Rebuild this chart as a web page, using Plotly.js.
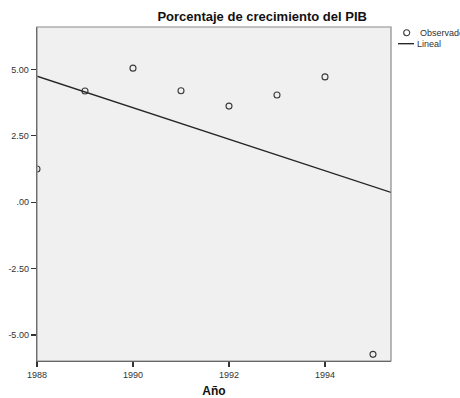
<!DOCTYPE html>
<html>
<head>
<meta charset="utf-8">
<script src="https://cdn.plot.ly/plotly-3.0.1.min.js"></script>
<style>html,body{margin:0;padding:0;background:#fff;}#chart{width:460px;height:398px;}</style>
</head>
<body>
<div id="chart"></div>
<script>
// Data
var years = [1988, 1989, 1990, 1991, 1992, 1993, 1994, 1995];
var gdpGrowth = [1.25, 4.19, 5.05, 4.20, 3.62, 4.04, 4.72, -5.73];
var yTickVals = [5, 2.5, 0, -2.5, -5];
var yTickText = ['5.00', '2.50', '.00', '-2.50', '-5.00'];
var xTickVals = [1988, 1990, 1992, 1994];

// Linear fit (least squares) from the observed data
var n = years.length;
var mx = years.reduce(function(a,b){return a+b;},0)/n;
var my = gdpGrowth.reduce(function(a,b){return a+b;},0)/n;
var sxy = 0, sxx = 0;
for (var i = 0; i < n; i++) { sxy += (years[i]-mx)*(gdpGrowth[i]-my); sxx += (years[i]-mx)*(years[i]-mx); }
var slope = sxy/sxx, intercept = my - slope*mx;
var xRange = [1988, 1995.375];
var yRange = [-5.98, 6.60];
var fitX = xRange.slice();
var fitY = fitX.map(function(x){return intercept + slope*x;});

var font = 'Liberation Sans, Arial, sans-serif';

// plot area pixel geometry
var L = 37, R = 391, T = 27, B = 361.5, W = 460, H = 398;
function px(x){ return (x - L)/(R - L); }
function py(y){ return (B - y)/(B - T); }

var traces = [
  {x: years, y: gdpGrowth, mode: 'markers', type: 'scatter', name: 'Observado',
   marker: {symbol: 'circle-open', size: 6, color: '#3a3a3a', line: {width: 1.1, color: '#3a3a3a'}},
   cliponaxis: true, showlegend: false},
  {x: fitX, y: fitY, mode: 'lines', type: 'scatter', name: 'Lineal',
   line: {color: '#262626', width: 1.4}, showlegend: false}
];

var layout = {
  width: W, height: H,
  margin: {l: L, r: W - R, t: T, b: H - B, pad: 0},
  paper_bgcolor: '#ffffff',
  plot_bgcolor: '#f0f0f0',
  font: {family: font, size: 9, color: '#333'},
  title: {text: '<b>Porcentaje de crecimiento del PIB</b>', font: {family: font, size: 13, color: '#111'},
          xref: 'paper', x: 0.636, xanchor: 'center', yref: 'container', y: 1 - 16/H, yanchor: 'middle'},
  xaxis: {range: xRange, tickvals: xTickVals, ticktext: xTickVals.map(String), ticks: 'outside', ticklen: 5,
          tickcolor: '#333', tickwidth: 1.2, showgrid: false, zeroline: false, showline: true, linecolor: '#444', linewidth: 1.3,
          tickfont: {family: font, size: 9, color: '#333'},
          title: {text: '<b>Año</b>', font: {family: font, size: 12, color: '#111'}, standoff: 8}},
  yaxis: {range: yRange, tickvals: yTickVals, ticktext: yTickText, ticks: 'outside', ticklen: 5,
          tickcolor: '#333', tickwidth: 1.2, showgrid: false, zeroline: false, showline: true, linecolor: '#444', linewidth: 1.3,
          tickfont: {family: font, size: 9, color: '#333'}},
  shapes: [
    {type: 'rect', xref: 'paper', yref: 'paper', x0: 0, x1: 1, y0: 0, y1: 1, line: {color: '#8a8a8a', width: 1.2}, layer: 'above'},
    {type: 'circle', xref: 'paper', yref: 'paper', x0: px(403.7), x1: px(409.7), y0: py(35.7), y1: py(29.7), line: {color: '#3a3a3a', width: 1.1}},
    {type: 'line', xref: 'paper', yref: 'paper', x0: px(398), x1: px(414), y0: py(43.7), y1: py(43.7), line: {color: '#262626', width: 1.4}}
  ],
  annotations: [
    {xref: 'paper', yref: 'paper', x: px(418), y: py(33), xanchor: 'left', yanchor: 'middle', showarrow: false,
     text: 'Observado', font: {family: font, size: 9, color: '#333'}},
    {xref: 'paper', yref: 'paper', x: px(414.5), y: py(44), xanchor: 'left', yanchor: 'middle', showarrow: false,
     text: 'Lineal', font: {family: font, size: 9, color: '#333'}}
  ]
};

Plotly.newPlot('chart', traces, layout, {displayModeBar: false, staticPlot: true});
</script>
</body>
</html>
